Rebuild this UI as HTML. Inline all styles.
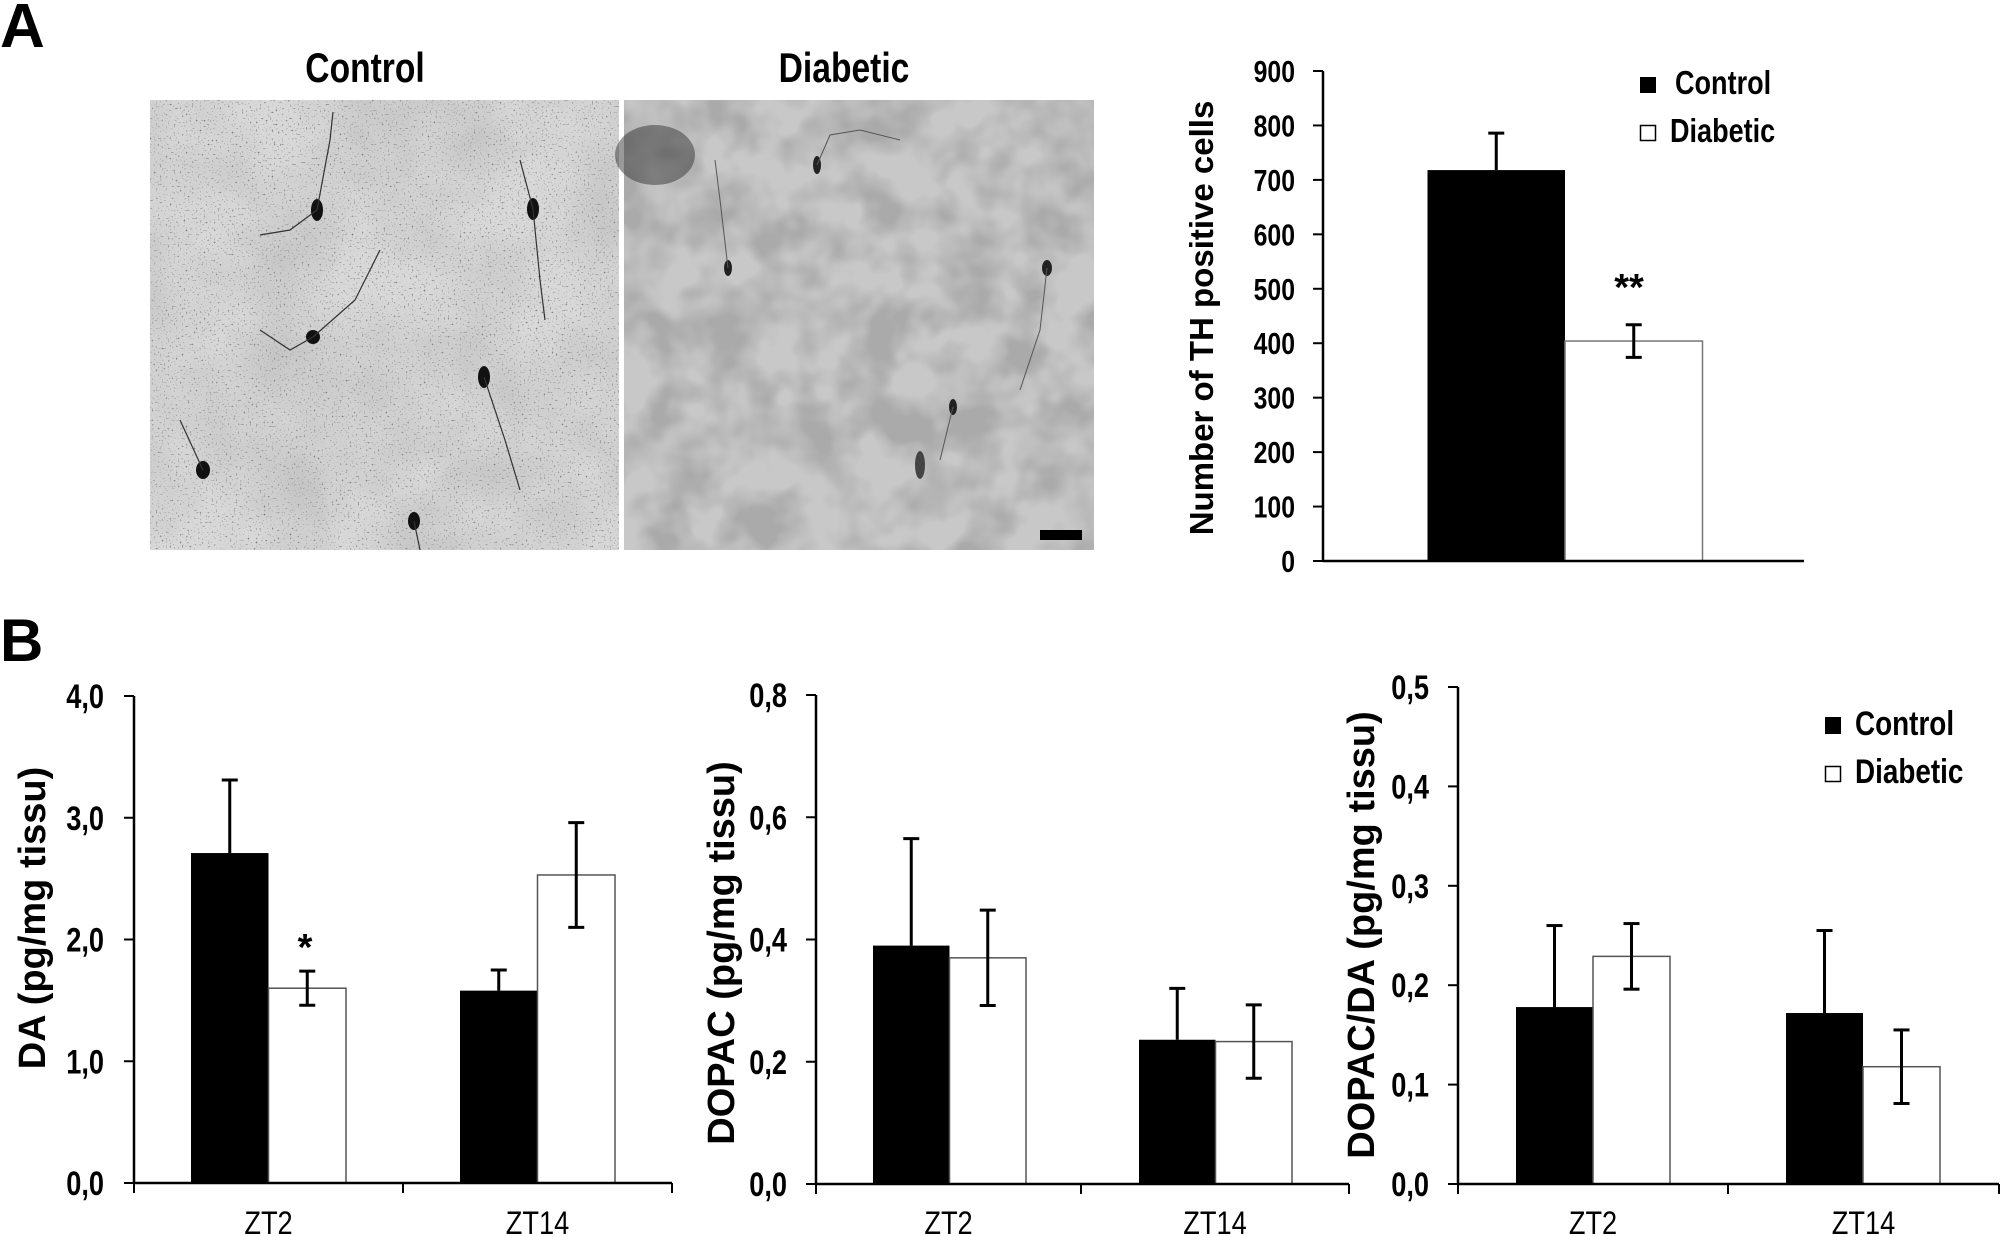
<!DOCTYPE html>
<html><head><meta charset="utf-8">
<style>
html,body{margin:0;padding:0;background:#fff;}
svg{display:block;}
text{font-family:"Liberation Sans",sans-serif;}
.n{font-family:"Liberation Sans",sans-serif;font-weight:bold;}
.t{font-family:"Liberation Sans",sans-serif;font-weight:bold;}
</style></head>
<body>
<svg id="fig" width="2001" height="1236" viewBox="0 0 2001 1236" xmlns="http://www.w3.org/2000/svg">
<defs>
<filter id="texC" x="0" y="0" width="100%" height="100%">
<feTurbulence type="fractalNoise" baseFrequency="0.012" numOctaves="3" seed="3" result="n1"/>
<feColorMatrix in="n1" type="matrix" values="0 0 0 0 0.55  0 0 0 0 0.55  0 0 0 0 0.55  -1.1 -1.1 0 0 1.45" result="c1"/>
<feTurbulence type="fractalNoise" baseFrequency="0.5" numOctaves="1" seed="8" result="n2"/>
<feColorMatrix in="n2" type="matrix" values="0 0 0 0 0.15  0 0 0 0 0.15  0 0 0 0 0.15  4 0 0 0 -2.4" result="c2"/>
<feMerge><feMergeNode in="c1"/><feMergeNode in="c2"/></feMerge>
</filter>
<filter id="texD" x="0" y="0" width="100%" height="100%">
<feTurbulence type="fractalNoise" baseFrequency="0.02" numOctaves="3" seed="11" result="n1"/>
<feColorMatrix in="n1" type="matrix" values="0 0 0 0 0.4  0 0 0 0 0.4  0 0 0 0 0.4  -2 -2 0 0 2.4"/>
</filter>
</defs>

<text class="t" x="0" y="47" font-size="62">A</text>
<text class="t" x="0" y="661" font-size="60">B</text>

<g>
<rect x="150" y="100" width="469" height="450" fill="#d8d8d8"/>
<rect x="150" y="100" width="469" height="450" filter="url(#texC)"/>
<g fill="#111">
<ellipse cx="317" cy="210" rx="6" ry="11"/><ellipse cx="533" cy="209" rx="6" ry="11"/>
<ellipse cx="313" cy="337" rx="7" ry="7"/><ellipse cx="484" cy="377" rx="6" ry="11"/>
<ellipse cx="203" cy="470" rx="7" ry="9"/><ellipse cx="414" cy="521" rx="6" ry="9"/>
</g>
<g stroke="#333" stroke-width="1.2" fill="none">
<path d="M317 210 L330 140 L333 112"/><path d="M317 210 L290 230 L260 235"/>
<path d="M533 209 L520 160"/><path d="M533 209 L540 280 L545 320"/>
<path d="M313 337 L290 350 L260 330"/><path d="M313 337 L355 300 L380 250"/>
<path d="M484 377 L505 440 L520 490"/><path d="M203 470 L180 420"/><path d="M414 521 L420 550"/>
</g>
</g>
<g>
<rect x="624" y="100" width="470" height="450" fill="#c8c8c8"/>
<rect x="624" y="100" width="470" height="450" filter="url(#texD)"/>
<ellipse cx="655" cy="155" rx="40" ry="30" fill="#333" opacity="0.5"/>
<g fill="#222">
<ellipse cx="817" cy="165" rx="4" ry="9"/><ellipse cx="728" cy="268" rx="4" ry="8"/>
<ellipse cx="1047" cy="268" rx="5" ry="8"/><ellipse cx="953" cy="407" rx="4" ry="8"/>
<ellipse cx="920" cy="465" rx="5" ry="14" fill="#444"/>
</g>
<g stroke="#555" stroke-width="1" fill="none">
<path d="M817 165 L830 135 L860 130 L900 140"/><path d="M728 268 L720 200 L715 160"/>
<path d="M1047 268 L1040 330 L1020 390"/><path d="M953 407 L940 460"/>
</g>
<rect x="1040" y="530" width="42" height="10" fill="#000"/>
</g>
<text class="n" font-size="42" text-anchor="middle" transform="translate(365,82) scale(0.8,1)">Control</text>
<text class="n" font-size="42" text-anchor="middle" transform="translate(844,82) scale(0.8,1)">Diabetic</text>

<g id="charts"></g>
</svg>

<script>
// Panel A
const aCategories = ["Control", "Diabetic"];
const aValues = [718, 404];
const aErr = [68, 30];
const aTicks = [0,100,200,300,400,500,600,700,800,900];
// Panel B
const bCategories = ["ZT2", "ZT14"];
const daControl = [2.71, 1.58];
const daDiabetic = [1.60, 2.53];
const daControlErr = [0.60, 0.17];
const daDiabeticErr = [0.14, 0.43];
const daTicks = ["0,0","1,0","2,0","3,0","4,0"];
const dopacControl = [0.39, 0.236];
const dopacDiabetic = [0.37, 0.233];
const dopacControlErr = [0.175, 0.084];
const dopacDiabeticErr = [0.078, 0.06];
const dopacTicks = ["0,0","0,2","0,4","0,6","0,8"];
const ratioControl = [0.178, 0.172];
const ratioDiabetic = [0.229, 0.118];
const ratioControlErr = [0.082, 0.083];
const ratioDiabeticErr = [0.033, 0.037];
const ratioTicks = ["0,0","0,1","0,2","0,3","0,4","0,5"];

const NS = "http://www.w3.org/2000/svg";
const root = document.getElementById("charts");
function mk(tag, attrs, parent, txt){
  const e = document.createElementNS(NS, tag);
  for (const k in attrs) e.setAttribute(k, attrs[k]);
  if (txt !== undefined) e.textContent = txt;
  (parent||root).appendChild(e);
  return e;
}
function narrow(x, y, size, anchor, txt, parent, sx){
  return mk("text",{x:0,y:0,"font-size":size,"text-anchor":anchor,class:"n",
    transform:"translate("+x+","+y+") scale("+(sx||0.8)+",1)"},parent,txt);
}
function errBar(g, cx, yTop, yBot, name){
  const e = mk("g", {stroke:"#000","stroke-width":3}, g);
  
  
  mk("line",{x1:cx,x2:cx,y1:yTop,y2:yBot},e);
  mk("line",{x1:cx-8,x2:cx+8,y1:yTop,y2:yTop},e);
  if (name.indexOf("diabetic")>=0) mk("line",{x1:cx-8,x2:cx+8,y1:yBot,y2:yBot},e);
}

(function(){
  const g = mk("g",{});
  
  
  const x0=1323, xEnd=1804, yBase=561, yTop=71, max=900;
  const y = v => yBase - v/max*(yBase-yTop);
  const barX = [1427.5, 1565], bw = 137.5;
  for (let i=0;i<aValues.length;i++){
    const r = mk("rect",{x:barX[i], y:y(aValues[i]), width:bw, height:yBase-y(aValues[i]),
      fill: i===0?"#000":"#fff", stroke: i===0?"#000":"#777", "stroke-width": i===0?0:1.5}, g);
    
    
    const cx = barX[i]+bw/2;
    errBar(g, cx, y(aValues[i]+aErr[i]), i===0?y(aValues[i]):y(aValues[i]-aErr[i]), i===0?"error-bar-control":"error-bar-diabetic");
  }
  mk("line",{x1:x0,x2:x0,y1:yTop,y2:yBase,stroke:"#000","stroke-width":2.5},g);
  mk("line",{x1:x0,x2:xEnd,y1:yBase,y2:yBase,stroke:"#000","stroke-width":2.5},g);
  aTicks.forEach(t=>{
    mk("line",{x1:x0-10,x2:x0,y1:y(t),y2:y(t),stroke:"#000","stroke-width":2},g);
    const tl = narrow(1295, y(t)+11, 31, "end", String(t), g);
    
    
  });
  const yt = mk("text",{x:0,y:0,"font-size":33,"text-anchor":"middle",class:"t",transform:"translate(1213,318) rotate(-90)"},g,"Number of TH positive cells");
  
  
  const st = mk("text",{x:1629,y:300,"font-size":38,"text-anchor":"middle",class:"t"},g,"**");
  
  
  const l1 = mk("g",{},g);
  
  
  mk("rect",{x:1640,y:77,width:16,height:16,fill:"#000"},l1);
  narrow(1675, 94, 33, "start", "Control", l1, 0.82);
  const l2 = mk("g",{},g);
  
  
  mk("rect",{x:1640.5,y:125.5,width:15,height:15,fill:"#fff",stroke:"#000","stroke-width":1.5},l2);
  narrow(1670, 142, 33, "start", "Diabetic", l2, 0.82);
})();

function bChart(cfg){
  const g = mk("g",{});
  
  
  const yBase=cfg.yBase, yTop=cfg.yTop, max=cfg.max;
  const y = v => yBase - v/max*(yBase-yTop);
  for (let i=0;i<bCategories.length;i++){
    const cx0 = cfg.bars[i], bw=cfg.bw;
    const rc = mk("rect",{x:cx0,y:y(cfg.ctrl[i]),width:bw,height:yBase-y(cfg.ctrl[i]),fill:"#000"},g);
    
    
    const rd = mk("rect",{x:cx0+bw,y:y(cfg.dia[i]),width:bw,height:yBase-y(cfg.dia[i]),fill:"#fff",stroke:"#555","stroke-width":1.5},g);
    
    
    errBar(g, cx0+bw/2, y(cfg.ctrl[i]+cfg.ctrlErr[i]), y(cfg.ctrl[i]), "error-bar-control");
    errBar(g, cx0+bw*1.5, y(cfg.dia[i]+cfg.diaErr[i]), y(cfg.dia[i]-cfg.diaErr[i]), "error-bar-diabetic");
    const xl = mk("text",{x:0,y:0,"font-size":32,"text-anchor":"middle",
      transform:"translate("+((cfg.catTicks[i]+cfg.catTicks[i+1])/2)+",1234) scale(0.85,1)"},g,bCategories[i]);
    
    
  }
  mk("line",{x1:cfg.x0,x2:cfg.x0,y1:yTop,y2:yBase,stroke:"#000","stroke-width":2.5},g);
  mk("line",{x1:cfg.x0,x2:cfg.xEnd,y1:yBase,y2:yBase,stroke:"#000","stroke-width":2.5},g);
  cfg.catTicks.forEach(t=>mk("line",{x1:t,x2:t,y1:yBase,y2:yBase+10,stroke:"#000","stroke-width":2},g));
  cfg.ticks.forEach((lab,k)=>{
    const v = k*max/(cfg.ticks.length-1);
    mk("line",{x1:cfg.x0-10,x2:cfg.x0,y1:y(v),y2:y(v),stroke:"#000","stroke-width":2},g);
    const tl = narrow(cfg.labRight, y(v)+12, 34, "end", lab, g);
    
    
  });
  const yt = mk("text",{x:0,y:0,"font-size":38,"text-anchor":"middle",class:"t",
    transform:"translate("+cfg.titleX+","+cfg.titleY+") rotate(-90)"},g,cfg.title);
  
  
  return {g,y};
}
const c1 = bChart({name:"da-chart",x0:134,xEnd:672,yBase:1183,yTop:696,max:4,bars:[191,460],bw:77.5,
  catTicks:[134,403,672],ctrl:daControl,dia:daDiabetic,ctrlErr:daControlErr,diaErr:daDiabeticErr,
  ticks:daTicks,labRight:104,title:"DA  (pg/mg tissu)",titleX:45,titleY:918});
const s1 = mk("text",{x:305,y:960,"font-size":38,"text-anchor":"middle",class:"t"},c1.g,"*");


bChart({name:"dopac-chart",x0:816,xEnd:1349,yBase:1184,yTop:695,max:0.8,bars:[873,1139],bw:76.5,
  catTicks:[816,1081,1349],ctrl:dopacControl,dia:dopacDiabetic,ctrlErr:dopacControlErr,diaErr:dopacDiabeticErr,
  ticks:dopacTicks,labRight:787,title:"DOPAC  (pg/mg tissu)",titleX:734,titleY:953});
const c3 = bChart({name:"dopac-da-ratio-chart",x0:1458,xEnd:1999,yBase:1184,yTop:687,max:0.5,bars:[1516,1786],bw:77,
  catTicks:[1458,1728,1999],ctrl:ratioControl,dia:ratioDiabetic,ctrlErr:ratioControlErr,diaErr:ratioDiabeticErr,
  ticks:ratioTicks,labRight:1429,title:"DOPAC/DA  (pg/mg tissu)",titleX:1374,titleY:935});
const lg1 = mk("g",{},c3.g);


mk("rect",{x:1825,y:717,width:16,height:17,fill:"#000"},lg1);
narrow(1855, 735, 34, "start", "Control", lg1, 0.82);
const lg2 = mk("g",{},c3.g);


mk("rect",{x:1825.5,y:766.5,width:15,height:15,fill:"#fff",stroke:"#000","stroke-width":1.5},lg2);
narrow(1855, 783, 34, "start", "Diabetic", lg2, 0.82);
</script>
</body></html>
